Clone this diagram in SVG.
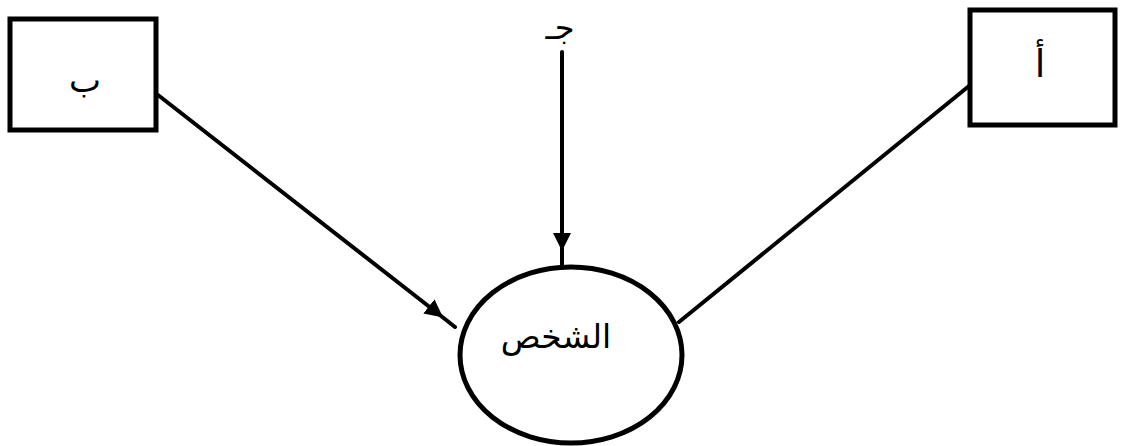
<svg xmlns="http://www.w3.org/2000/svg" width="1121" height="446" viewBox="0 0 1121 446">
<style>
.box{fill:#fff;stroke:#000;stroke-width:5}
.conn{fill:none;stroke:#000;stroke-width:4;stroke-linecap:round}
.lbl{font-family:"DejaVu Sans",sans-serif;fill:#000;text-anchor:middle;dominant-baseline:central}
</style>
<defs>
<marker id="arr" viewBox="0 0 10 10" refX="5" refY="5" markerWidth="4.5" markerHeight="4.5" markerUnits="strokeWidth" orient="auto">
<path d="M0,0 L10,5 L0,10 z" fill="#000"/>
</marker>
</defs>
<rect width="1121" height="446" fill="#fff"/>
<g id="connectors">
<path class="conn" d="M158,95 L436,312 L455,327" marker-mid="url(#arr)"/>
<path class="conn" d="M562,52 L562,242 L562,266" marker-mid="url(#arr)"/>
<path class="conn" d="M969,86 L679,322"/>
</g>
<g id="node-b">
<rect class="box" x="10" y="19" width="146" height="111"/>
<text class="lbl" x="85" y="80" font-size="34">ب</text>
</g>
<g id="node-a">
<rect class="box" x="970" y="10" width="145" height="115"/>
<text class="lbl" x="1040" y="64" font-size="38">أ</text>
</g>
<g id="node-j">
<text class="lbl" x="560" y="28" font-size="32">جـ</text>
</g>
<g id="node-person">
<ellipse cx="571" cy="355" rx="111" ry="88" fill="#fff" stroke="#000" stroke-width="5"/>
<text class="lbl" x="556" y="336" font-size="33">الشخص</text>
</g>
</svg>
